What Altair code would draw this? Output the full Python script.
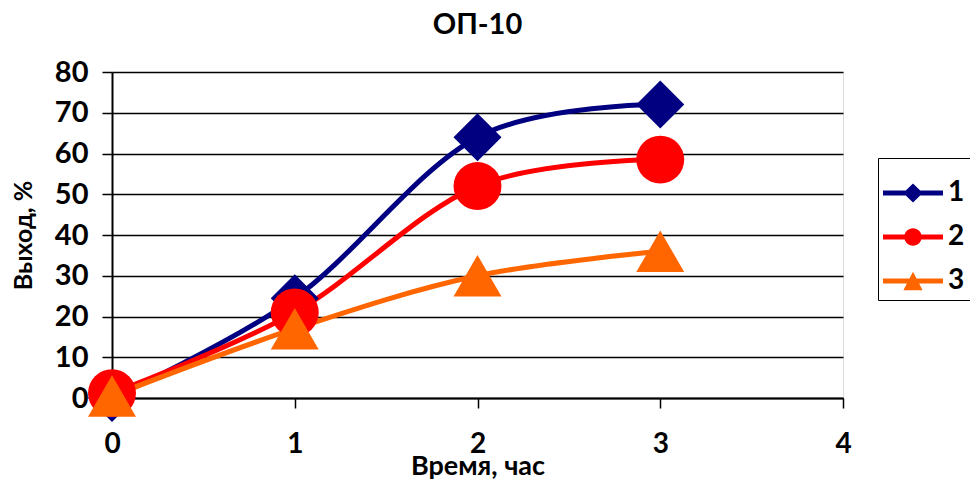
import altair as alt
import pandas as pd

times = [0, 1, 2, 3]
series_names = ["1", "2", "3"]
s1 = [0, 24.5, 64, 72]
s2 = [1.2, 21, 52, 58.5]
s3 = [0.5, 17, 30, 36]
colors = ["#000080", "#FF0000", "#FF6600"]
plot_shapes = ["diamond", "circle", "triangle-up"]

legend_paths = [
    "M-1,-0.085 H-0.24 L0,-0.32 L0.24,-0.085 H1 V0.085 H0.24 L0,0.32 L-0.24,0.085 H-1 Z",
    "M-1,-0.085 H1 V0.085 H-1 Z M-0.29,0 A0.29,0.29 0 1,1 0.29,0 A0.29,0.29 0 1,1 -0.29,0 Z",
    "M-1,-0.085 H1 V0.085 H-1 Z M0,-0.31 L0.32,0.31 L-0.32,0.31 Z",
]

rows = []
for name, vals in zip(series_names, [s1, s2, s3]):
    for t, v in zip(times, vals):
        rows.append({"t": t, "v": v, "s": name})
df = pd.DataFrame(rows)

FONT = "Lato"

x = alt.X("t:Q", scale=alt.Scale(domain=[0, 4], nice=False),
          axis=alt.Axis(title="Время, час", values=[0, 1, 2, 3, 4], grid=False,
                        labelFontSize=28, labelFont=FONT, labelFontWeight="bold",
                        labelFlush=False, labelPadding=22, tickSize=10,
                        tickColor="black", tickWidth=1.5,
                        domainColor="black", domainWidth=2,
                        titleFont=FONT, titleFontSize=27, titleFontWeight="bold",
                        titlePadding=-5, labelColor="black", titleColor="black"))
y = alt.Y("v:Q", scale=alt.Scale(domain=[0, 80], nice=False),
          axis=alt.Axis(title="Выход, %", values=list(range(0, 81, 10)),
                        gridColor="black", gridWidth=1.5,
                        labelFontSize=29, labelFont=FONT, labelFontWeight="bold",
                        labelPadding=14, tickSize=10, tickColor="black", tickWidth=1.5,
                        domainColor="black", domainWidth=2,
                        titleFont=FONT, titleFontSize=25, titleFontWeight="bold",
                        titlePadding=18, labelColor="black", titleColor="black"))

color_nolegend = alt.Color("s:N", scale=alt.Scale(domain=series_names, range=colors), legend=None)

base = alt.Chart(df)

lines = base.mark_line(interpolate="cardinal", tension=0, strokeWidth=5).encode(
    x=x, y=y, color=color_nolegend)

points = base.mark_point(filled=True, size=2300, opacity=1).encode(
    x=x, y=y, color=color_nolegend,
    shape=alt.Shape("s:N", scale=alt.Scale(domain=series_names, range=plot_shapes), legend=None))

leg = dict(title=None, orient="none", legendX=766, legendY=86,
           symbolSize=3600, symbolStrokeWidth=0, symbolOpacity=1,
           labelFont=FONT, labelFontSize=28, labelFontWeight="bold",
           labelColor="black", labelOffset=5,
           strokeColor="black", fillColor="white", padding=5, rowPadding=-9)

legend_layer = base.transform_filter("datum.t < -100").mark_point(filled=True, opacity=1).encode(
    x=x, y=y,
    color=alt.Color("s:N", scale=alt.Scale(domain=series_names, range=colors),
                    legend=alt.Legend(**leg)),
    shape=alt.Shape("s:N", scale=alt.Scale(domain=series_names, range=legend_paths),
                    legend=alt.Legend(**leg)))

chart = alt.layer(lines, points, legend_layer).resolve_scale(
    color="independent", shape="independent"
).properties(
    width=731, height=326,
    title=alt.TitleParams("ОП-10", font=FONT, fontSize=29, fontWeight="bold", color="black",
                          anchor="middle", offset=18),
    padding={"left": 112, "top": 72, "right": 127, "bottom": 83},
    autosize=alt.AutoSizeParams(type="none"),
).configure_view(stroke="#808080", strokeWidth=1.5).configure(background="white")

chart.save("out.html", embed_options={"renderer": "svg", "actions": False})
